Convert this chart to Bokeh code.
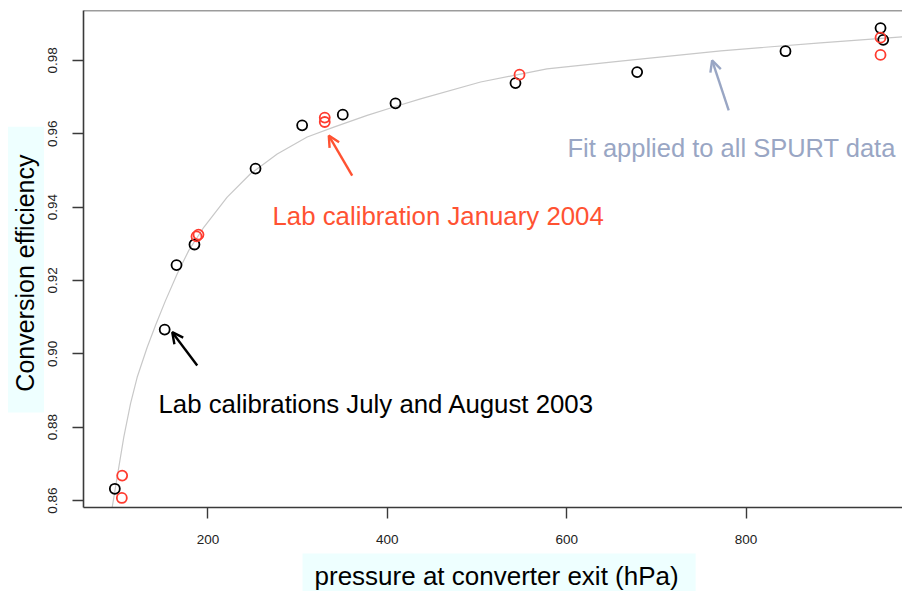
import math
from bokeh.plotting import figure
from bokeh.models import Range1d, FixedTicker, PrintfTickFormatter, Label, Arrow, OpenHead, Span
from bokeh.embed import file_html
from bokeh.resources import INLINE

# ---- data ----
black_p = [96.1, 151.7, 164.9, 184.9, 253.0, 305.0, 350.3, 409.1, 542.9, 678.6, 844.0, 950.0, 953.0]
black_eff = [0.8632, 0.9066, 0.9242, 0.9298, 0.9505, 0.9623, 0.9652, 0.9683, 0.9738, 0.9768, 0.9825, 0.9888, 0.9856]

red_p = [104.3, 103.9, 187.2, 189.4, 330.2, 330.2, 547.4, 950.0, 950.0]
red_eff = [0.8668, 0.8607, 0.9320, 0.9325, 0.9644, 0.9632, 0.9761, 0.9862, 0.9815]

fit_p = [91.5, 93.2, 98.7, 106.1, 113.6, 121.0, 132.2, 141.5, 152.6, 165.7, 178.6, 195.3, 221.4,
         247.4, 277.2, 310.6, 340.3, 377.5, 407.2, 437.0, 504.0, 578.0, 660.0, 772.0, 883.0, 975.0]
fit_eff = [0.8575, 0.8582, 0.8664, 0.8773, 0.8864, 0.8936, 0.9018, 0.9078, 0.9145, 0.9218, 0.9282, 0.9345, 0.9427,
           0.9491, 0.9545, 0.9591, 0.9618, 0.9650, 0.9673, 0.9695, 0.9741, 0.9777, 0.9798, 0.9826, 0.9848, 0.9864]

x_ticks = [200, 400, 600, 800]
y_ticks = [0.86, 0.88, 0.90, 0.92, 0.94, 0.96, 0.98]

x_label = "pressure at converter exit (hPa)"
y_label = "Conversion efficiency"
note_black = "Lab calibrations July and August 2003"
note_red = "Lab calibration January 2004"
note_fit = "Fit applied to all SPURT data"

TEXT_FONT = "Liberation Sans"
TICK_FONT = "Liberation Sans"
AXIS_COLOR = "#3a3a3a"
RED_MARK = "#ff3b2f"
RED_TEXT = "#ff5232"
FIT_TEXT = "#99a6c4"
BOX_COLOR = "#eeffff"
NBSP = "\u00a0"

p = figure(width=902, height=591,
           x_range=Range1d(61.16, 974.5), y_range=Range1d(0.8581, 0.9936),
           output_backend="svg", toolbar_location=None,
           min_border_left=83, min_border_right=0, min_border_top=10, min_border_bottom=84)
p.outline_line_color = None
p.xgrid.visible = False
p.ygrid.visible = False
p.background_fill_color = "white"
p.border_fill_color = "white"

for ax in (p.xaxis[0], p.yaxis[0]):
    ax.axis_line_color = AXIS_COLOR
    ax.axis_line_width = 1.6
    ax.major_tick_line_color = AXIS_COLOR
    ax.major_tick_line_width = 1.4
    ax.major_tick_in = 0
    ax.major_tick_out = 11
    ax.minor_tick_line_color = None
    ax.major_label_text_font = TICK_FONT
    ax.major_label_text_font_size = "13.5px"
    ax.major_label_text_color = "#222222"

p.xaxis[0].ticker = FixedTicker(ticks=x_ticks)
p.xaxis[0].major_label_standoff = 16
p.yaxis[0].ticker = FixedTicker(ticks=y_ticks)
p.yaxis[0].formatter = PrintfTickFormatter(format="%.2f")
p.yaxis[0].major_label_orientation = "vertical"
p.yaxis[0].major_label_standoff = 15

# top border of the box
p.add_layout(Span(location=0.9936, dimension="width", line_color=AXIS_COLOR, line_width=1.6))

# fit curve
p.line(fit_p, fit_eff, line_color="#c8c8c8", line_width=1.2)

# data points
p.scatter(black_p, black_eff, marker="circle", size=10, fill_color=None,
          line_color="black", line_width=1.8)
p.scatter(red_p, red_eff, marker="circle", size=10, fill_color=None,
          line_color=RED_MARK, line_width=1.8)

# arrows
p.add_layout(Arrow(end=OpenHead(size=11, line_color="black", line_width=2.4),
                   x_start=188.0, y_start=0.8968, x_end=160.1, y_end=0.9059,
                   line_color="black", line_width=2.4))
p.add_layout(Arrow(end=OpenHead(size=11, line_color=RED_TEXT, line_width=2.4),
                   x_start=360.8, y_start=0.9486, x_end=334.7, y_end=0.9595,
                   line_color=RED_TEXT, line_width=2.4))
p.add_layout(Arrow(end=OpenHead(size=11, line_color=FIT_TEXT, line_width=2.4),
                   x_start=780.7, y_start=0.9664, x_end=762.2, y_end=0.9800,
                   line_color=FIT_TEXT, line_width=2.4))

# annotations
p.add_layout(Label(x=144.8, y=0.8862, text=note_black, text_font=TEXT_FONT,
                   text_font_size="25.8px", text_color="black",
                   text_align="left", text_baseline="alphabetic"))
p.add_layout(Label(x=271.9, y=0.9377, text=note_red, text_font=TEXT_FONT,
                   text_font_size="25.8px", text_color=RED_TEXT,
                   text_align="left", text_baseline="alphabetic"))
p.add_layout(Label(x=600.9, y=0.9560, text=note_fit, text_font=TEXT_FONT,
                   text_font_size="25.5px", text_color=FIT_TEXT,
                   text_align="left", text_baseline="alphabetic"))

# axis titles with light cyan boxes, placed in the side panels (not clipped);
# the anchor is the box's top-left corner (in the text's own frame)
# padding order: (left, right, top, bottom) in the text's own frame
p.add_layout(Label(x=305.4, y=0.84555, text=x_label, text_font=TEXT_FONT,
                   text_font_size="26px", text_color="black",
                   text_align="left", text_baseline="top",
                   background_fill_color=BOX_COLOR, padding=(12, 17, 7, 6)), "below")
p.add_layout(Label(x=-23.04, y=0.8840, text=NBSP * 3 + y_label + NBSP * 4, text_font=TEXT_FONT,
                   text_font_size="25px", text_color="black",
                   text_align="left", text_baseline="top", angle=math.pi / 2,
                   background_fill_color=BOX_COLOR, padding=(0, 0, 3, 5)), "left")

open("out.html", "w").write(file_html(p, INLINE))
